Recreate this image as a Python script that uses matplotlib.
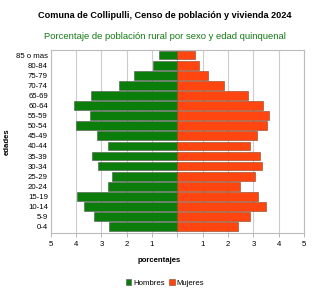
import numpy as np
import matplotlib
matplotlib.use('Agg')
import matplotlib.pyplot as plt

plt.rcParams['font.family'] = ['Liberation Sans', 'DejaVu Sans']

edades = ['0-4', '5-9', '10-14', '15-19', '20-24', '25-29', '30-34', '35-39',
          '40-44', '45-49', '50-54', '55-59', '60-64', '65-69', '70-74',
          '75-79', '80-84', '85 o mas']
hombres = [2.69, 3.29, 3.68, 3.98, 2.74, 2.58, 3.15, 3.35, 2.74, 3.17,
           4.01, 3.46, 4.07, 3.39, 2.30, 1.71, 0.96, 0.71]
mujeres = [2.40, 2.87, 3.51, 3.20, 2.49, 3.07, 3.36, 3.27, 2.88, 3.15,
           3.53, 3.63, 3.40, 2.79, 1.83, 1.20, 0.85, 0.69]
ticks = [-5, -4, -3, -2, -1, 0, 1, 2, 3, 4, 5]
tick_labels = ['5', '4', '3', '2', '1', '', '1', '2', '3', '4', '5']

verde = '#0a7d0a'
rojo = '#ff4611'

fig = plt.figure(figsize=(3.3, 2.89), dpi=100)
ax = fig.add_axes([0.1536, 0.1948, 0.7676, 0.632])

y = np.arange(len(edades))
ax.barh(y, -np.array(hombres), height=0.86, color=verde, edgecolor='#555555',
        linewidth=0.4, label='Hombres', zorder=3)
ax.barh(y, mujeres, height=0.86, color=rojo, edgecolor='#884422',
        linewidth=0.4, label='Mujeres', zorder=3)

ax.set_xlim(-5, 5)
ax.set_ylim(-0.6, 17.5)
ax.set_xticks(ticks)
ax.set_xticklabels(tick_labels, fontsize=5.6)
ax.set_yticks(y)
ax.set_yticklabels(edades, fontsize=5.6)
ax.tick_params(axis='y', length=0, pad=2)
ax.tick_params(axis='x', length=3, width=0.6, color='#aaaaaa', pad=3)
ax.xaxis.grid(True, color='#cccccc', linewidth=0.8, zorder=0)
for s in ax.spines.values():
    s.set_color('#bbbbbb')
    s.set_linewidth(0.8)

fig.text(0.5, 0.945, 'Comuna de Collipulli, Censo de población y vivienda 2024',
         ha='center', va='center', fontsize=6.6, fontweight='bold')
fig.text(0.5, 0.872, 'Porcentaje de población rural por sexo y edad quinquenal',
         ha='center', va='center', fontsize=6.8, color='#157a15')
ax.set_xlabel('porcentajes', fontsize=5.6, fontweight='bold', va='center')
ax.xaxis.set_label_coords(0.43, -0.15)
ax.set_ylabel('edades', fontsize=5.6, fontweight='bold', labelpad=4)

fig.legend(loc='center', bbox_to_anchor=(0.5, 0.02), ncol=2, fontsize=5.6,
           frameon=False, handlelength=0.7, handleheight=0.7, handletextpad=0.2,
           columnspacing=0.6)

fig.savefig('out.png', dpi=100)
